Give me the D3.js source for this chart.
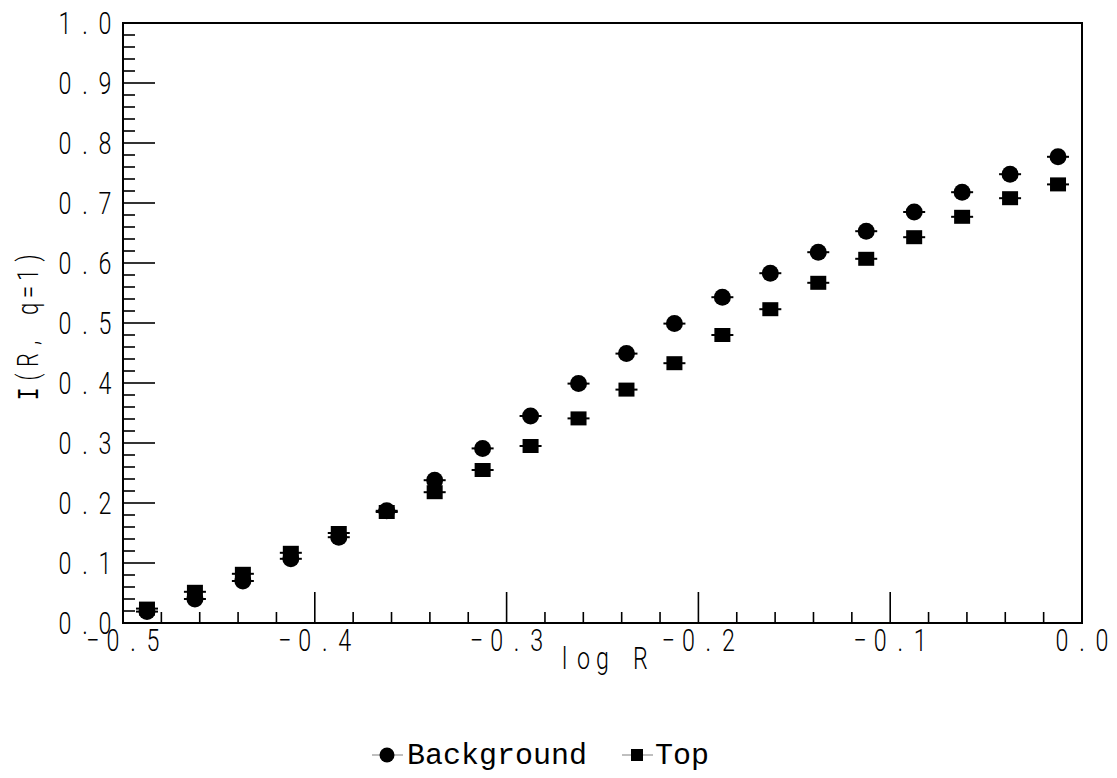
<!DOCTYPE html>
<html>
<head>
<meta charset="utf-8">
<script src="https://cdn.jsdelivr.net/npm/d3@7"></script>
<style>
  body { margin: 0; background: #fff; }
  svg { display: block; }
</style>
</head>
<body>
<div id="chart"></div>
<script>
const width = 1117;
const height = 778;

// data
const logR = [-0.4875, -0.4625, -0.4375, -0.4125, -0.3875, -0.3625, -0.3375, -0.3125, -0.2875, -0.2625,
              -0.2375, -0.2125, -0.1875, -0.1625, -0.1375, -0.1125, -0.0875, -0.0625, -0.0375, -0.0125];
const background = [0.019, 0.040, 0.070, 0.107, 0.143, 0.187, 0.238, 0.291, 0.345, 0.399,
                    0.449, 0.499, 0.543, 0.583, 0.618, 0.653, 0.685, 0.718, 0.748, 0.777];
const topSeries = [0.024, 0.052, 0.082, 0.117, 0.150, 0.185, 0.218, 0.255, 0.295, 0.341,
                   0.389, 0.433, 0.480, 0.523, 0.567, 0.607, 0.643, 0.677, 0.708, 0.731];
const xTicks = [-0.5, -0.4, -0.3, -0.2, -0.1, 0.0];
const yTicks = [0.0, 0.1, 0.2, 0.3, 0.4, 0.5, 0.6, 0.7, 0.8, 0.9, 1.0];

const plot = { left: 123, right: 1082, top: 23, bottom: 623 };

const x = d3.scaleLinear().domain([-0.5, 0]).range([plot.left, plot.right]);
const y = d3.scaleLinear().domain([0, 1]).range([plot.bottom, plot.top]);

const svg = d3.select("#chart")
    .append("svg")
    .attr("width", width)
    .attr("height", height);

// plotter-style text: every character on a fixed advance, thin and narrow
function monoText(g, str, cx, baseY, size, advance, rotate) {
    const sx = 0.75;
    const chars = str.split("");
    const n = chars.length;
    const t = g.append("g")
        .attr("transform", `translate(${cx},${baseY}) rotate(${rotate || 0})`);
    t.selectAll("text")
        .data(chars)
        .join("text")
        .attr("transform", (c, i) => `translate(${(i - (n - 1) / 2) * advance},0) scale(${sx},1)`)
        .attr("text-anchor", "middle")
        // serifed I so it does not read as l
        .attr("font-family", c => c === "I" ? "Liberation Mono, monospace" : "Roboto, 'DejaVu Sans', sans-serif")
        .attr("font-weight", c => c === "I" ? 400 : 300)
        .attr("font-size", size)
        .attr("fill", "#000")
        .text(c => c);
}

// minor ticks
const xMinor = d3.range(-0.5, 0.0001, 0.02);
const yMinor = d3.range(0, 1.0001, 0.02);

const axes = svg.append("g").attr("stroke", "#000").attr("stroke-width", 1.6);

axes.selectAll("line.xm")
    .data(xMinor)
    .join("line")
    .attr("x1", d => x(d)).attr("x2", d => x(d))
    .attr("y1", plot.bottom).attr("y2", d => xTicks.some(t => Math.abs(t - d) < 1e-6) ? plot.bottom - 31 : plot.bottom - 11);

axes.selectAll("line.ym")
    .data(yMinor)
    .join("line")
    .attr("y1", d => y(d)).attr("y2", d => y(d))
    .attr("x1", plot.left).attr("x2", d => yTicks.some(t => Math.abs(t - d) < 1e-6) ? plot.left + 32 : plot.left + 12);

svg.append("rect")
    .attr("x", plot.left).attr("y", plot.top)
    .attr("width", plot.right - plot.left)
    .attr("height", plot.bottom - plot.top)
    .attr("fill", "none")
    .attr("stroke", "#000")
    .attr("stroke-width", 2);

const labels = svg.append("g");
xTicks.forEach(t => monoText(labels, t === 0 ? "0.0" : "\u2212" + Math.abs(t).toFixed(1), x(t), 651, 31, 20));
yTicks.forEach(t => monoText(labels, t.toFixed(1), 85, y(t) + 11, 31, 20));

monoText(labels, "log R", (plot.left + plot.right) / 2, 669, 31, 19);
monoText(labels, "I(R, q=1)", 38, 326, 29, 17, -90);

// markers
const marks = svg.append("g");
const bar = 11;

function errBars(data) {
    marks.append("g")
        .selectAll("line")
        .data(data)
        .join("line")
        .attr("x1", (d, i) => x(logR[i]) - bar)
        .attr("x2", (d, i) => x(logR[i]) + bar)
        .attr("y1", d => y(d))
        .attr("y2", d => y(d))
        .attr("stroke", "#000")
        .attr("stroke-width", 2);
}

errBars(background);
marks.append("g")
    .selectAll("circle")
    .data(background)
    .join("circle")
    .attr("cx", (d, i) => x(logR[i]))
    .attr("cy", d => y(d))
    .attr("r", 8.5)
    .attr("fill", "#000");

errBars(topSeries);
marks.append("g")
    .selectAll("rect")
    .data(topSeries)
    .join("rect")
    .attr("x", (d, i) => x(logR[i]) - 8)
    .attr("y", d => y(d) - 7)
    .attr("width", 16)
    .attr("height", 14)
    .attr("fill", "#000");

// legend
const legend = svg.append("g");
const legendFont = "Liberation Mono, monospace";

legend.append("line").attr("x1", 372).attr("x2", 403).attr("y1", 755).attr("y2", 755)
    .attr("stroke", "#aaa").attr("stroke-width", 1.5);
legend.append("circle").attr("cx", 387).attr("cy", 755).attr("r", 7.5).attr("fill", "#000");
legend.append("text").attr("x", 407).attr("y", 764)
    .attr("font-family", legendFont).attr("font-size", 30).text("Background");

legend.append("line").attr("x1", 622).attr("x2", 653).attr("y1", 755).attr("y2", 755)
    .attr("stroke", "#aaa").attr("stroke-width", 1.5);
legend.append("rect").attr("x", 631).attr("y", 749).attr("width", 12).attr("height", 12).attr("fill", "#000");
legend.append("text").attr("x", 655).attr("y", 764)
    .attr("font-family", legendFont).attr("font-size", 30).text("Top");
</script>
</body>
</html>
